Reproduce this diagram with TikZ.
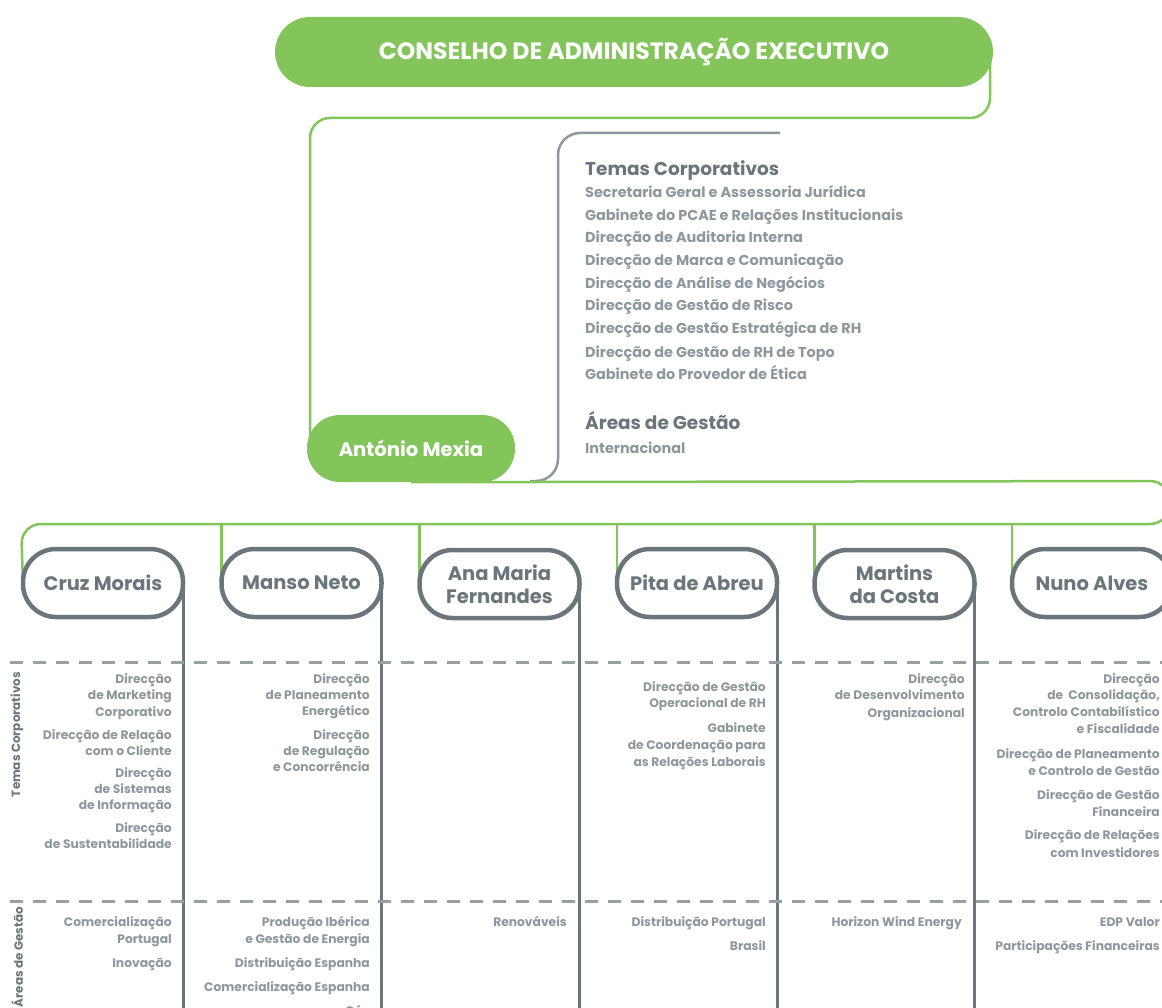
\documentclass[tikz,border=0pt]{standalone}
\usepackage{fontspec}
\setmainfont{Poppins}
\usetikzlibrary{backgrounds}
\definecolor{edpgreen}{HTML}{84C55B}
\definecolor{darkgrey}{HTML}{6B757C}
\definecolor{lightgrey}{HTML}{8E979E}
\definecolor{dashgrey}{HTML}{98A0A6}
\tikzset{
  greenline/.style={draw=edpgreen, line width=2.5pt},
  greyline/.style={draw=lightgrey, line width=2.5pt},
  vline/.style={draw=darkgrey, line width=3pt},
  dashline/.style={draw=dashgrey, line width=3pt, dash pattern=on 13pt off 10pt},
  person/.style={draw=darkgrey, line width=4.5pt, fill=white, rounded corners=33pt,
    minimum width=160pt, minimum height=68pt, inner sep=0pt, outer sep=0pt, align=center,
    text=darkgrey, font=\fontsize{19.5}{23}\selectfont\bfseries},
  coltext/.style={anchor=base east, inner sep=0pt, text=lightgrey,
    font=\fontsize{12.3}{14}\selectfont\bfseries},
  listtext/.style={anchor=base west, inner sep=0pt, text=lightgrey,
    font=\fontsize{14.4}{16}\selectfont\bfseries},
  headtext/.style={anchor=base west, inner sep=0pt, text=darkgrey,
    font=\fontsize{18.5}{20}\selectfont\bfseries},
  sidelabel/.style={rotate=90, anchor=east, inner sep=0pt, text=darkgrey,
    font=\fontsize{11.9}{13}\selectfont\bfseries},
}
\newcommand\cl[4]{\node[coltext] (#1) at (#2,#3) {#4};}
\newcommand\li[3]{\node[listtext] (#1) at (585,#2) {#3};}
\begin{document}
\begin{tikzpicture}[x=1pt,y=-1pt]
\useasboundingbox (0,0) rectangle (1162,1008);

% header and Mexia
\node[fill=edpgreen, rounded corners=35pt, minimum width=718pt, minimum height=70pt,
  inner sep=0pt, text=white, font=\fontsize{23.6}{25}\selectfont\bfseries] (cae) at (634,52)
  {CONSELHO DE ADMINISTRAÇÃO EXECUTIVO};
\node[fill=edpgreen, rounded corners=33pt, minimum width=208pt, minimum height=67pt,
  inner sep=0pt, text=white, font=\fontsize{19.6}{21}\selectfont\bfseries] (mexia) at (411,448.5)
  {António Mexia};

% text block
\node[headtext] (tc) at (585,176) {Temas Corporativos};
\li{l1}{198}{Secretaria Geral e Assessoria Jurídica}
\li{l2}{221}{Gabinete do PCAE e Relações Institucionais}
\li{l3}{243}{Direcção de Auditoria Interna}
\li{l4}{266}{Direcção de Marca e Comunicação}
\li{l5}{289}{Direcção de Análise de Negócios}
\li{l6}{311}{Direcção de Gestão de Risco}
\li{l7}{334}{Direcção de Gestão Estratégica de RH}
\li{l8}{357}{Direcção de Gestão de RH de Topo}
\li{l9}{379}{Gabinete do Provedor de Ética}
\node[headtext] (ag) at (585,429) {Áreas de Gestão};
\li{l10}{453}{Internacional}

% persons
\node[person] (p1) at (103,583) {Cruz Morais};
\node[person] (p2) at (301.5,583) {Manso Neto};
\node[person] (p3) at (499.5,584) {Ana Maria\\Fernandes};
\node[person] (p4) at (697,583) {Pita de Abreu};
\node[person] (p5) at (894.5,584) {Martins\\da Costa};
\node[person] (p6) at (1092,583) {Nuno Alves};

\coordinate (hdrop) at (990,52);
\coordinate (rowL) at (21,524);
\coordinate (gb1) at (780,133);
\coordinate (gb2) at (530,481);

\begin{pgfonlayer}{background}
  \draw[greenline, rounded corners=20pt] (hdrop) -- (990,118) -- (310,118) -- (310,448);
  \draw[greyline, rounded corners=22pt] (gb1) -- (558,133) -- (558,481) -- (gb2);
  \draw[greenline, rounded corners=20pt] (mexia.south) -- (1170,481) -- (1170,524) -- (rowL) -- (p1.west);
  \foreach \p in {p2,p3,p4,p5,p6} \draw[greenline] (\p.west) -- (\p.west |- rowL);
  \foreach \p in {p1,p2,p3,p4,p5} \draw[vline] (\p.east) -- (\p.east |- 0,1012);
  \draw[dashline] (10,662) -- (1162,662);
  \draw[dashline] (10,901) -- (1162,901);
\end{pgfonlayer}

% side labels
\node[sidelabel] (sl1) at (17,672) {Temas Corporativos};
\node[sidelabel] (sl2) at (17,907) {Áreas de Gestão};

% Temas Corporativos columns
\cl{a1}{172}{683}{Direcção\ }
\cl{a2}{172}{699}{de Marketing}
\cl{a3}{172}{716}{Corporativo}
\cl{a4}{172}{739}{Direcção de Relação}
\cl{a5}{172}{755}{com o Cliente}
\cl{a6}{172}{777}{Direcção}
\cl{a7}{172}{793}{de Sistemas}
\cl{a8}{172}{809}{de Informação}
\cl{a9}{172}{832}{Direcção}
\cl{a10}{172}{848}{de Sustentabilidade}

\cl{b1}{370}{683}{Direcção}
\cl{b2}{370}{699}{de Planeamento}
\cl{b3}{370}{715}{Energético}
\cl{b4}{370}{739}{Direcção}
\cl{b5}{370}{755}{de Regulação\ }
\cl{b6}{370}{771}{e Concorrência}

\cl{d1}{766}{691}{Direcção de Gestão}
\cl{d2}{766}{707}{Operacional de RH}
\cl{d3}{766}{732}{Gabinete\ }
\cl{d4}{766}{749}{de Coordenação para\ }
\cl{d5}{766}{766}{as Relações Laborais\ }

\cl{e1}{965}{683}{Direcção\ }
\cl{e2}{965}{699}{de Desenvolvimento}
\cl{e3}{965}{717}{Organizacional}

\cl{f1}{1160}{683}{Direcção\ }
\cl{f2}{1160}{699}{de~ Consolidação,}
\cl{f3}{1160}{716}{Controlo Contabilístico\ }
\cl{f4}{1160}{733}{e Fiscalidade}
\cl{f5}{1160}{758}{Direcção de Planeamento}
\cl{f6}{1160}{775}{e Controlo de Gestão}
\cl{f7}{1160}{799}{Direcção de Gestão}
\cl{f8}{1160}{816}{Financeira}
\cl{f9}{1160}{839}{Direcção de Relações}
\cl{f10}{1160}{857}{com Investidores}

% Areas de Gestao columns
\cl{g1}{172}{926}{Comercialização}
\cl{g2}{172}{943}{Portugal}
\cl{g3}{172}{967}{Inovação}
\cl{h1}{370}{926}{Produção Ibérica\ }
\cl{h2}{370}{943}{e Gestão de Energia}
\cl{h3}{370}{967}{Distribuição Espanha}
\cl{h4}{370}{991}{Comercialização Espanha}
\cl{h5}{370}{1015}{Gás}
\cl{i1}{567}{926}{Renováveis}
\cl{j1}{766}{926}{Distribuição Portugal}
\cl{j2}{766}{950}{Brasil}
\cl{k1}{962}{926}{Horizon Wind Energy}
\cl{m1}{1160}{926}{EDP Valor}
\cl{m2}{1160}{950}{Participações Financeiras}
\end{tikzpicture}
\end{document}
